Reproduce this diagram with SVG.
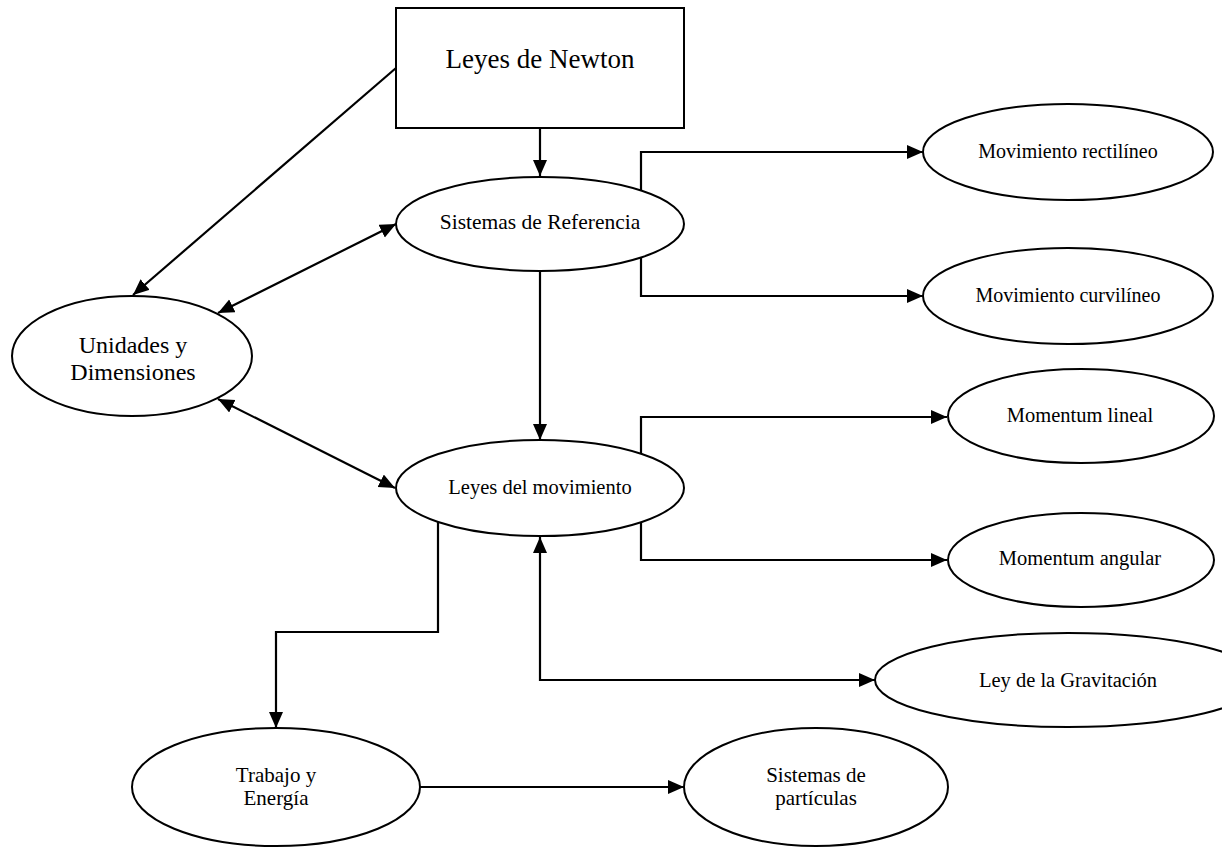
<svg xmlns="http://www.w3.org/2000/svg" width="1222" height="848" viewBox="0 0 1222 848">
<style>
.c{fill:none;stroke:#000;stroke-width:2.2}
.n{fill:#fff;stroke:#000;stroke-width:2}
text{font-family:"Liberation Serif","Times New Roman",serif;fill:#000;text-anchor:middle}
</style>
<defs>
<marker id="a" markerUnits="userSpaceOnUse" markerWidth="18" markerHeight="16" refX="16" refY="7" orient="auto-start-reverse"><path d="M0,0 L16,7 L0,14 z" fill="#000"/></marker>
</defs>
<rect width="1222" height="848" fill="#fff"/>
<g id="connectors">
<path class="c" d="M396,68 L133,295" marker-end="url(#a)"/>
<path class="c" d="M540,128 V176" marker-end="url(#a)"/>
<path class="c" d="M218,313 L396,224" marker-start="url(#a)" marker-end="url(#a)"/>
<path class="c" d="M540,271 V440" marker-end="url(#a)"/>
<path class="c" d="M218,399 L395,488" marker-start="url(#a)" marker-end="url(#a)"/>
<path class="c" d="M923,152 H641 V296 H923" marker-start="url(#a)" marker-end="url(#a)"/>
<path class="c" d="M947,417 H641 V560 H947" marker-start="url(#a)" marker-end="url(#a)"/>
<path class="c" d="M540,537 V680 H875" marker-start="url(#a)" marker-end="url(#a)"/>
<path class="c" d="M438,515 V632 H276 V728" marker-end="url(#a)"/>
<path class="c" d="M420,787 H684" marker-end="url(#a)"/>
</g>
<g id="newton"><rect class="n" x="396" y="8" width="288" height="120"/><text x="540" y="68" font-size="27">Leyes de Newton</text></g>
<g id="sistemas-referencia"><ellipse class="n" cx="540" cy="224" rx="144" ry="47"/><text x="540" y="229" font-size="21.5">Sistemas de Referencia</text></g>
<g id="unidades"><ellipse class="n" cx="132" cy="356" rx="120" ry="60"/><text x="133" y="353" font-size="24">Unidades y</text><text x="133" y="380" font-size="24">Dimensiones</text></g>
<g id="leyes-movimiento"><ellipse class="n" cx="540" cy="488" rx="144" ry="48"/><text x="540" y="494" font-size="20.5">Leyes del movimiento</text></g>
<g id="rectilineo"><ellipse class="n" cx="1068" cy="152" rx="145" ry="48"/><text x="1068" y="158" font-size="20">Movimiento rectilíneo</text></g>
<g id="curvilineo"><ellipse class="n" cx="1068" cy="296" rx="145" ry="48"/><text x="1068" y="302" font-size="20">Movimiento curvilíneo</text></g>
<g id="lineal"><ellipse class="n" cx="1081" cy="416" rx="133" ry="47"/><text x="1080" y="422" font-size="20.5">Momentum lineal</text></g>
<g id="angular"><ellipse class="n" cx="1081" cy="560" rx="133" ry="47"/><text x="1080" y="565" font-size="20.5">Momentum angular</text></g>
<g id="gravitacion"><ellipse class="n" cx="1068" cy="680" rx="193" ry="47"/><text x="1068" y="687" font-size="20.5">Ley de la Gravitación</text></g>
<g id="trabajo"><ellipse class="n" cx="276" cy="787" rx="144" ry="59"/><text x="276" y="782" font-size="21">Trabajo y</text><text x="276" y="805" font-size="21">Energía</text></g>
<g id="particulas"><ellipse class="n" cx="816" cy="787" rx="132" ry="59"/><text x="816" y="782" font-size="21">Sistemas de</text><text x="816" y="805" font-size="21">partículas</text></g>
</svg>
